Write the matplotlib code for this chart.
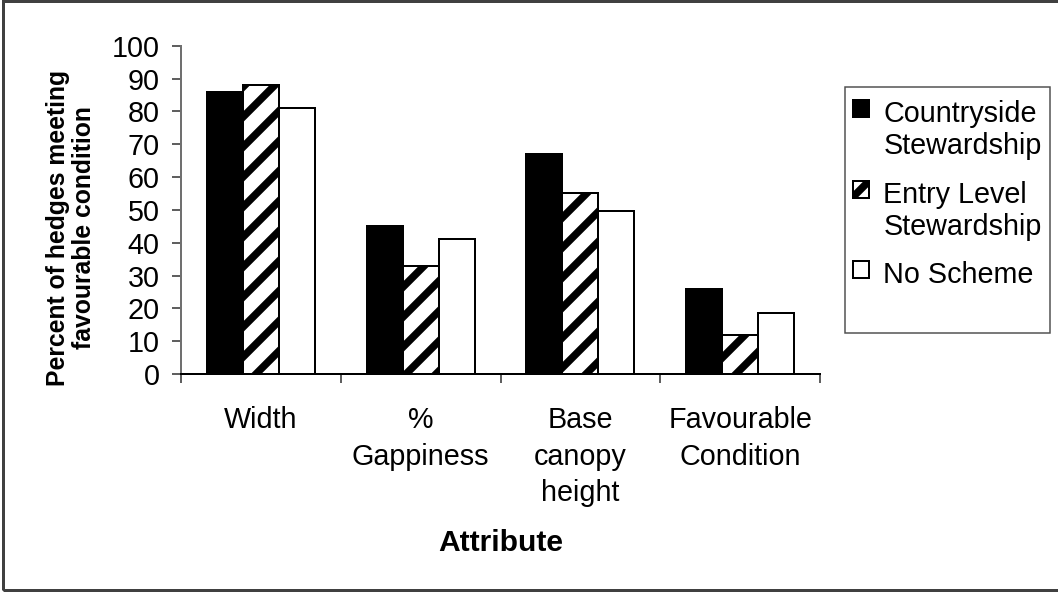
import matplotlib
matplotlib.use("Agg")
import matplotlib.pyplot as plt
from matplotlib.patches import Rectangle
import numpy as np

# Data
categories = ["Width", "%\nGappiness", "Base\ncanopy\nheight", "Favourable\nCondition"]
countryside = [86, 45, 67, 26]
entry_level = [88, 33, 55, 12]
no_scheme = [81, 41, 49.5, 18.5]
series_names = ["Countryside\nStewardship", "Entry Level\nStewardship", "No Scheme"]
yticks = list(range(0, 101, 10))

plt.rcParams['font.family'] = ['Liberation Sans', 'DejaVu Sans']
plt.rcParams['hatch.linewidth'] = 3.0

W, H, DPI = 1058, 592, 180
fig = plt.figure(figsize=(W / DPI, H / DPI), dpi=DPI)
ax = fig.add_axes([181 / W, 1 - 374 / H, (820 - 181) / W, (374 - 45.7) / H])

x = np.arange(len(categories))
w = 0.225
ax.bar(x - w, countryside, w, color='black', edgecolor='black', linewidth=0.8,
       label=series_names[0])
ax.bar(x, entry_level, w, color='white', edgecolor='black', hatch='//', linewidth=0.8,
       label=series_names[1])
ax.bar(x + w, no_scheme, w, color='white', edgecolor='black', linewidth=0.8,
       label=series_names[2])

ax.set_xlim(-0.5, len(categories) - 0.5)
ax.set_ylim(0, 100)
ax.set_yticks(yticks)
ax.tick_params(axis='y', labelsize=11.5, length=3.6, width=0.8, color='#606060', pad=5)

# category boundaries as ticks, labels centred in between
ax.set_xticks(np.arange(-0.5, len(categories), 1))
ax.set_xticklabels([])
ax.set_xticks(x, minor=True)
ax.set_xticklabels(categories, minor=True, fontsize=11.5, linespacing=1.38)
ax.tick_params(axis='x', which='major', length=3.6, width=0.8, color='#606060')
ax.tick_params(axis='x', which='minor', length=0, pad=13)

for s in ['top', 'right']:
    ax.spines[s].set_visible(False)
ax.spines['left'].set_color('#707070')
ax.spines['left'].set_linewidth(0.8)
ax.spines['bottom'].set_color('black')
ax.spines['bottom'].set_linewidth(0.8)

fig.text(71 / W, 1 - 228 / H, "Percent of hedges meeting\nfavourable condition",
         rotation=90, ha='center', va='center', multialignment='center',
         fontsize=9.9, fontweight='bold', linespacing=1.15)
fig.text(501 / W, 1 - 543 / H, "Attribute", ha='center', va='center',
         fontsize=12, fontweight='bold')

# legend with its own frame, like the Excel original
leg = fig.legend(loc='upper left', bbox_to_anchor=(853 / W, 1 - 100 / H), frameon=False,
                 fontsize=11.5, handlelength=0.55, handleheight=0.55, handletextpad=0.5,
                 labelspacing=0.7, borderaxespad=0, borderpad=0)
# put each key beside the first line of its label
for col in leg.get_children()[0].get_children()[1].get_children():
    for item in col.get_children():
        item.align = 'top'

fig.add_artist(Rectangle((845 / W, 1 - 333 / H), 205 / W, 246 / H, transform=fig.transFigure,
                         fill=False, edgecolor='#505050', linewidth=0.6))

# outer chart border
fig.add_artist(Rectangle((3 / W, 1 - 590 / H), 1.1, 589 / H, transform=fig.transFigure,
                         fill=False, edgecolor='#404040', linewidth=1.2))

fig.savefig("out.png", dpi=DPI)
